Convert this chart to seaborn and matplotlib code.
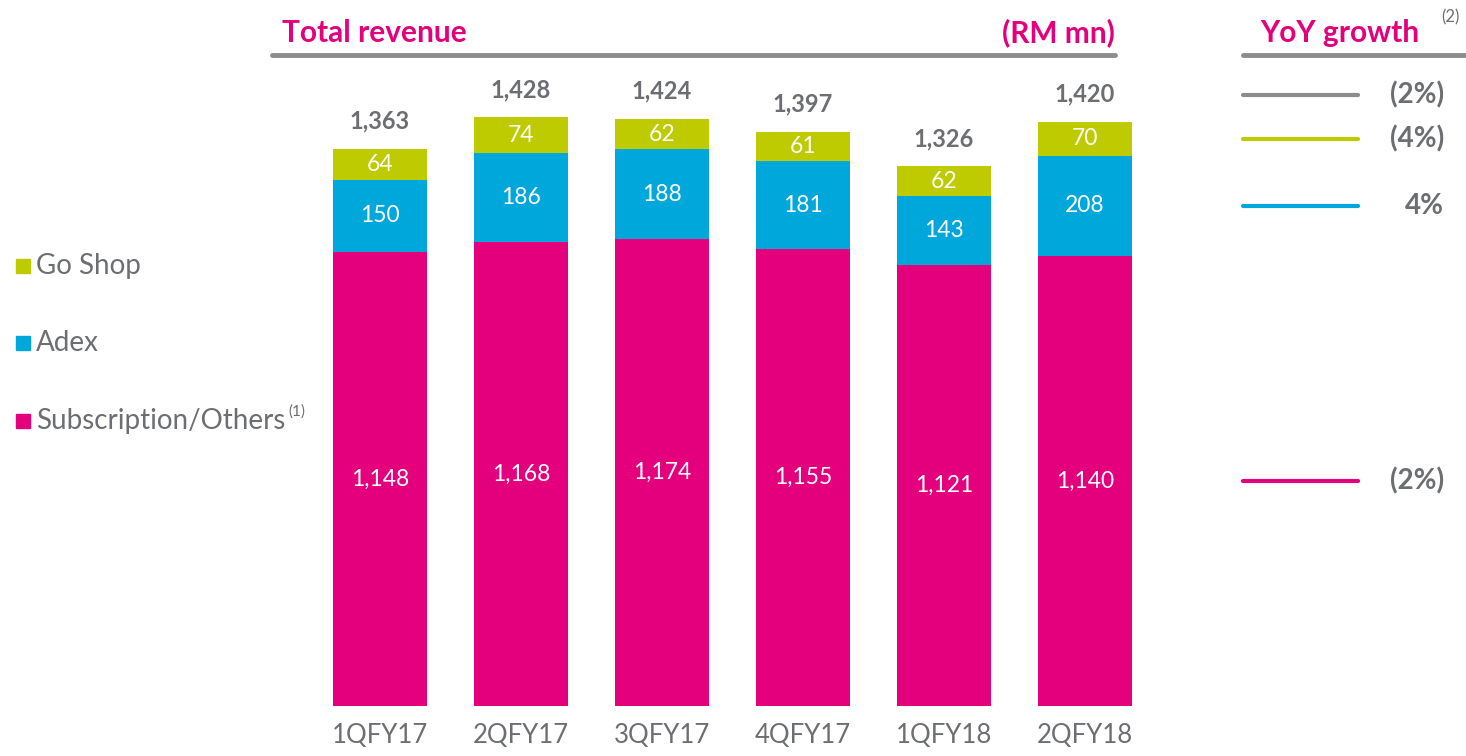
import matplotlib
matplotlib.use("Agg")
import matplotlib.pyplot as plt
import matplotlib.transforms as mtransforms
from matplotlib.lines import Line2D
from matplotlib.patches import Rectangle
import seaborn as sb
import pandas as pd
import numpy as np

# data (RM mn)
quarters = ['1QFY17', '2QFY17', '3QFY17', '4QFY17', '1QFY18', '2QFY18']
subscription = [1148, 1168, 1174, 1155, 1121, 1140]
adex = [150, 186, 188, 181, 143, 208]
go_shop = [64, 74, 62, 61, 62, 70]
totals = [1363, 1428, 1424, 1397, 1326, 1420]

segments = ['Subscription/Others', 'Adex', 'Go Shop']
yoy_labels = ['(2%)', '(4%)', '4%', '(2%)']   # total, go shop, adex, subscription

pink = '#E4007C'
cyan = '#00A7DA'
lime = '#BECB00'
grey = '#6D6E71'
line_grey = '#8C8C8E'
colors = [pink, cyan, lime]

sb.set_style('white')
plt.rcParams['font.family'] = ['Lato', 'DejaVu Sans']

W, H = 1466, 756
fig = plt.figure(figsize=(W / 100, H / 100), dpi=100)

def fx(px):
    return px / W

def fy(py):
    return 1 - py / H

ax = fig.add_axes([fx(309.5), fy(706), fx(846), 646 / H])

df = pd.DataFrame({'quarter': quarters, 'Subscription/Others': subscription,
                   'Adex': adex, 'Go Shop': go_shop})
cum = df[segments].cumsum(axis=1)

# draw stacks from the top segment down so each layer covers the one below
for seg, col in reversed(list(zip(segments, colors))):
    sb.barplot(x=df['quarter'], y=cum[seg], color=col, width=0.67,
               linewidth=0, saturation=1, ax=ax)

y_min, y_max = 204, 1547
ax.set_ylim(y_min, y_max)
ax.set_xlim(-0.5, len(quarters) - 0.5)

# segment labels
for i in range(len(quarters)):
    bottom = y_min
    for seg in segments:
        top = cum[seg][i]
        lo = max(bottom, y_min)
        ax.text(i, (lo + top) / 2, f'{df[seg][i]:,}', ha='center', va='center',
                color='white', fontsize=16.5)
        bottom = top
    ax.annotate(f'{totals[i]:,}', (i, cum['Go Shop'][i]), xytext=(0, 20),
                textcoords='offset points', ha='center', va='center',
                color=grey, fontsize=17, fontweight='bold')

ax.set_xlabel('')
ax.set_ylabel('')
ax.set_yticks([])
ax.tick_params(axis='x', length=0, pad=12, labelsize=18.5, labelcolor=grey)
sb.despine(ax=ax, left=True, bottom=True)

# header
fig.text(fx(282), fy(33), 'Total revenue', color=pink, fontsize=21.5,
         fontweight='bold', ha='left', va='center')
fig.text(fx(1115), fy(33), '(RM mn)', color=pink, fontsize=21.5,
         fontweight='bold', ha='right', va='center')
fig.add_artist(Line2D([fx(272), fx(1115)], [fy(55), fy(55)], color=line_grey,
                      lw=3.5, transform=fig.transFigure))
fig.text(fx(1340), fy(33), 'YoY growth', color=pink, fontsize=21.5,
         fontweight='bold', ha='center', va='center')
fig.text(fx(1450), fy(17), '(2)', color=grey, fontsize=12,
         ha='center', va='center')
fig.add_artist(Line2D([fx(1243), fx(1466)], [fy(55), fy(55)], color=line_grey,
                      lw=3.5, transform=fig.transFigure))

# YoY growth lines aligned with the last bar
last = len(quarters) - 1
blend = mtransforms.blended_transform_factory(fig.transFigure, ax.transData)
yoy_y = [cum['Go Shop'][last] + 56,
         (cum['Adex'][last] + cum['Go Shop'][last]) / 2,
         (cum['Subscription/Others'][last] + cum['Adex'][last]) / 2,
         (y_min + cum['Subscription/Others'][last]) / 2]
yoy_colors = [line_grey, lime, cyan, pink]
for lab, yv, col in zip(yoy_labels, yoy_y, yoy_colors):
    fig.add_artist(Line2D([fx(1243), fx(1358)], [yv, yv], color=col, lw=3,
                          transform=blend))
    fig.text(fx(1444), yv, lab, transform=blend, color=grey, fontsize=20,
             fontweight='bold', ha='right', va='center')

# legend
legend_y = [266, 343, 421]
for seg, col, ly in zip(reversed(segments), reversed(colors), legend_y):
    fig.add_artist(Rectangle((fx(16), fy(ly + 7)), fx(14), 14 / H, color=col,
                             transform=fig.transFigure))
    t = fig.text(fx(36), fy(ly), seg, color=grey, fontsize=20, ha='left',
                 va='center')
sup = fig.text(0, 0, '(1)', color=grey, fontsize=11, ha='left', va='center')
sup.set_transform(mtransforms.offset_copy(fig.transFigure, fig=fig, x=0, y=0))
fig.canvas.draw()
bb = t.get_window_extent()
sup.set_position((bb.x1 / W + fx(3), fy(412)))

fig.savefig('out.png', dpi=100)
